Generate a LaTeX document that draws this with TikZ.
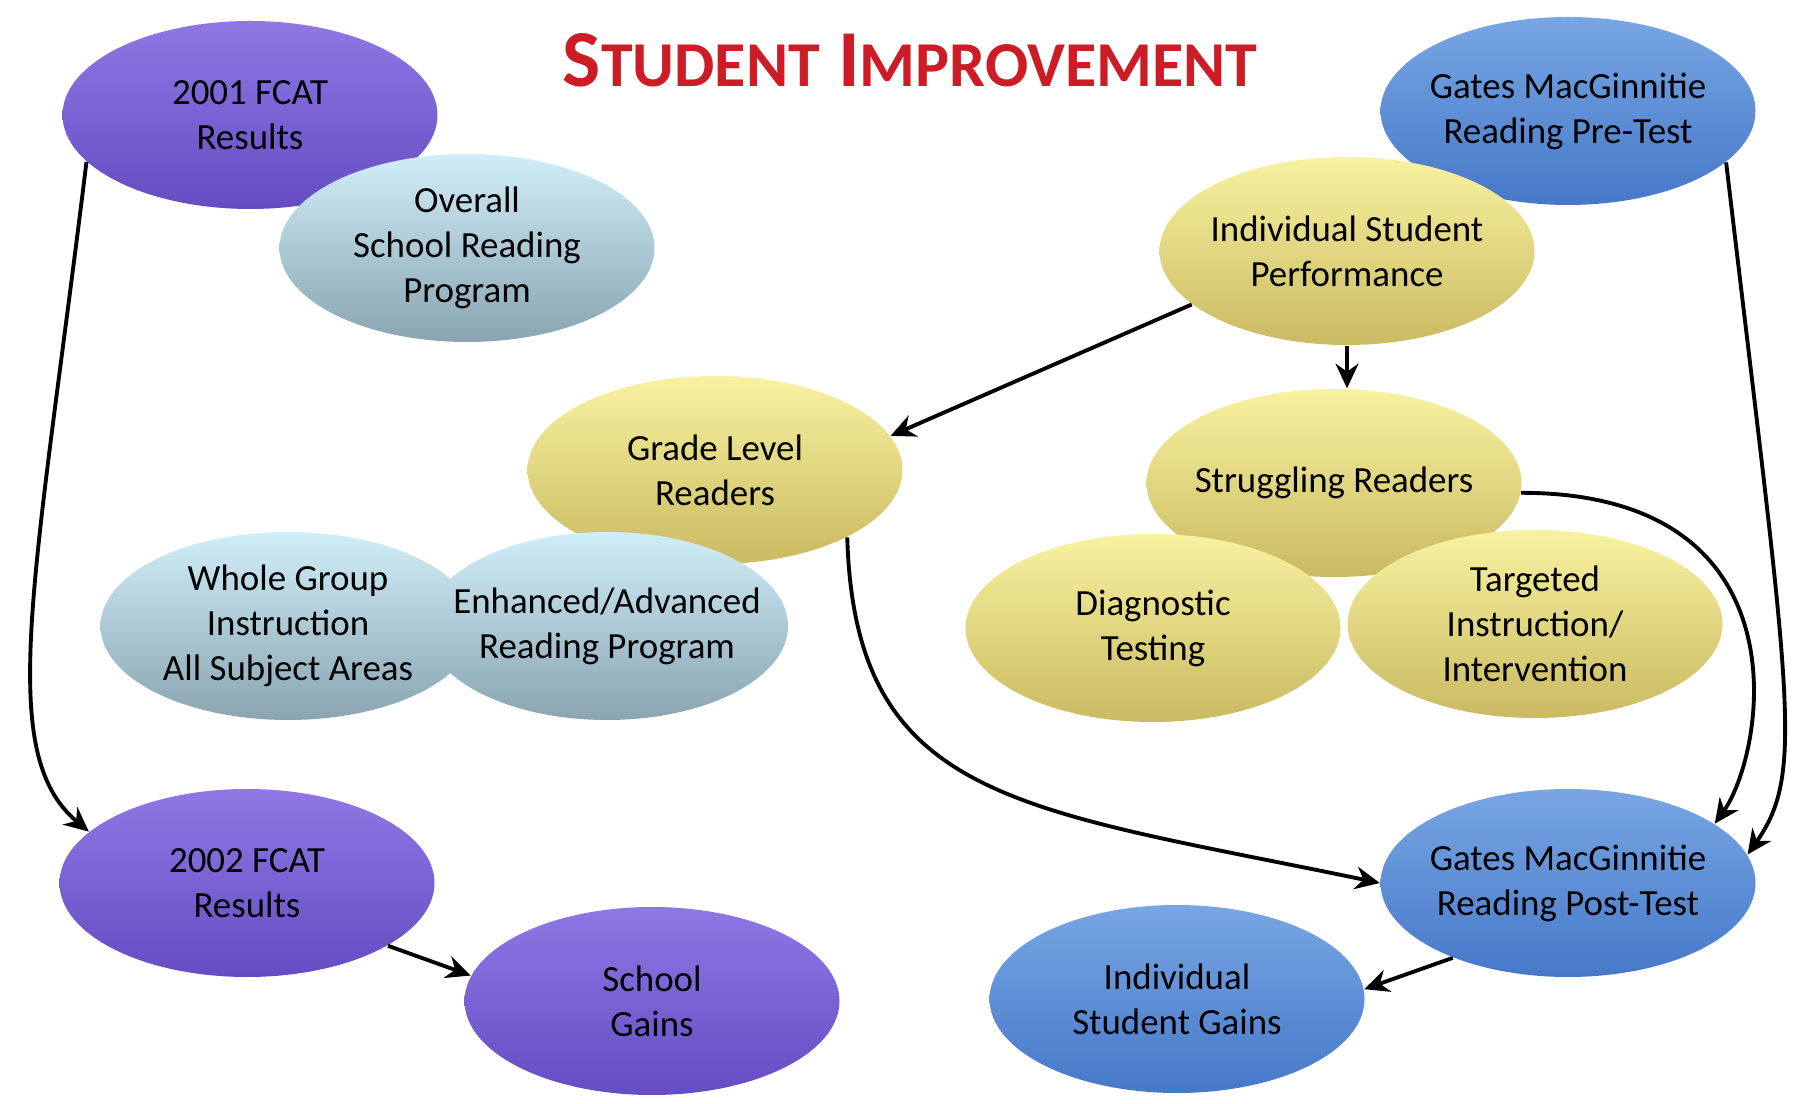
\documentclass[tikz,border=0pt]{standalone}
\usepackage{fontspec}
\setmainfont{Carlito}
\usepackage{tikz}
\usetikzlibrary{shapes.geometric, arrows.meta}

\definecolor{plumtop}{RGB}{142,120,228}
\definecolor{plumbot}{RGB}{100,76,194}
\definecolor{skytop}{RGB}{208,238,248}
\definecolor{skybot}{RGB}{138,164,178}
\definecolor{strawtop}{RGB}{248,242,160}
\definecolor{strawbot}{RGB}{202,186,98}
\definecolor{bluetop}{RGB}{120,166,228}
\definecolor{bluebot}{RGB}{70,120,200}
\definecolor{titlered}{RGB}{204,28,38}

\tikzstyle{bubble} = [ellipse, minimum width=3.75cm, minimum height=1.88cm, inner sep=-3mm, align=center, font=\fontsize{10.5}{12.8}\selectfont]
\tikzstyle{fcat} = [bubble, top color=plumtop, bottom color=plumbot]
\tikzstyle{program} = [bubble, top color=skytop, bottom color=skybot]
\tikzstyle{reader} = [bubble, top color=strawtop, bottom color=strawbot]
\tikzstyle{gates} = [bubble, top color=bluetop, bottom color=bluebot]
\tikzstyle{flow} = [line width=1.1pt, -{Stealth[length=7pt,width=6.5pt]}]

\begin{document}
\begin{tikzpicture}
            \useasboundingbox (0,0) rectangle (18.08,11.03);
            \node[text=titlered, font=\bfseries] (title) at (9.10,10.43)
                {{\fontsize{23}{27}\selectfont S}{\fontsize{18.2}{22}\selectfont TUDENT}{\fontsize{23}{27}\selectfont\ I}{\fontsize{18.2}{22}\selectfont MPROVEMENT}};

            \node[fcat] (fcat01) at (2.50,9.88) {2001 FCAT\\Results};
            \node[program] (overall) at (4.67,8.55) {Overall\\School Reading\\Program};
            \node[gates] (pretest) at (15.68,9.92) {Gates MacGinnitie\\Reading Pre-Test};
            \node[reader] (perf) at (13.47,8.52) {Individual Student\\Performance};
            \node[reader] (grade) at (7.15,6.33) {Grade Level\\Readers};
            \node[reader] (struggle) at (13.34,6.20) {Struggling Readers};
            \node[program] (whole) at (2.88,4.77) {Whole Group\\Instruction\\All Subject Areas};
            \node[program, minimum width=3.62cm] (enhanced) at (6.07,4.77) {Enhanced/Advanced\\Reading Program};
            \node[reader] (diag) at (11.53,4.75) {Diagnostic\\Testing};
            \node[reader] (target) at (15.35,4.79) {Targeted\\Instruction/\\Intervention};
            \node[fcat] (fcat02) at (2.47,2.20) {2002 FCAT\\Results};
            \node[fcat] (gains) at (6.52,1.02) {School\\Gains};
            \node[gates] (posttest) at (15.68,2.20) {Gates MacGinnitie\\Reading Post-Test};
            \node[gates] (indgains) at (11.77,1.04) {Individual\\Student Gains};

            \draw[flow] (fcat01.196) .. controls (0.35,5.2) and (-0.05,3.5) .. (fcat02.162);
            \draw[flow] (fcat02.336) -- (gains.172);
            \draw[flow] (perf.199) -- (grade.11);
            \draw[flow] (perf.south) -- (perf.south |- struggle.north);
            \draw[flow] (grade.333) .. controls (8.55,3.0) and (10.2,2.95) .. (posttest.180);
            \draw[flow] (struggle.357) .. controls (18.1,6.1) and (17.65,3.5) .. (posttest.22);
            \draw[flow] (pretest.342) .. controls (17.9,4.0) and (18.05,3.3) .. (posttest.9);
            \draw[flow] (posttest.213) -- (indgains.3);
        \end{tikzpicture}
\end{document}
